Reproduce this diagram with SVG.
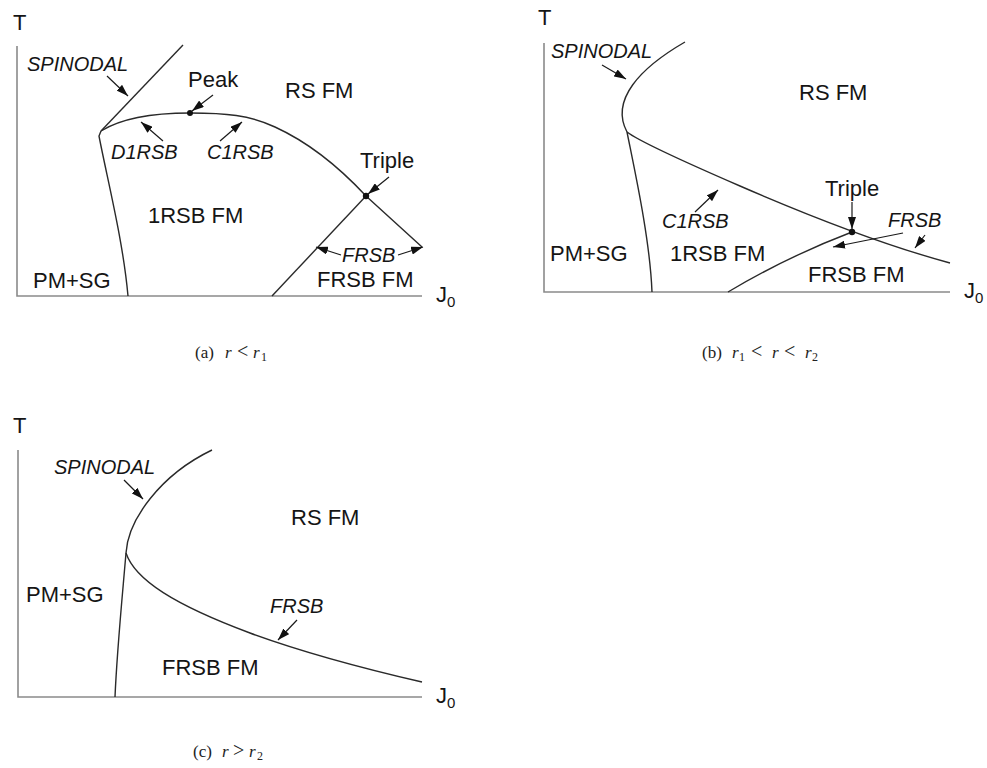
<svg xmlns="http://www.w3.org/2000/svg" width="987" height="768" viewBox="0 0 987 768">
<style>
.bg{fill:#ffffff}
.axis{fill:none;stroke:#8a8a8a;stroke-width:1.6}
.curve{fill:none;stroke:#2a2a2a;stroke-width:1.4}
.arr{fill:none;stroke:#1a1a1a;stroke-width:1.2;marker-end:url(#ah)}
.lbl{font-family:"Liberation Sans",Arial,Helvetica,sans-serif;font-size:22px;fill:#151515}
.it{font-family:"Liberation Sans",Arial,Helvetica,sans-serif;font-size:20px;font-style:italic;fill:#151515}
.ax{font-family:"Liberation Sans",Arial,Helvetica,sans-serif;font-size:22px;fill:#151515}
.sub{font-size:15px}
.cap{font-family:"Liberation Serif","Times New Roman",serif;font-size:17px;fill:#222}
.ci{font-style:italic}
.cs{font-size:12px}
.op{font-size:20px}
.dot{fill:#111}
</style>
<defs>
<marker id="ah" markerUnits="userSpaceOnUse" markerWidth="13" markerHeight="8" refX="12" refY="4" orient="auto">
<path d="M0,0 L12,4 L0,8 Z" fill="#111"/>
</marker>
</defs>
<rect class="bg" x="0" y="0" width="987" height="768"/>

<g id="panel-a">
<path class="axis" d="M17,46 L17,296 L422,296"/>
<text class="ax" x="13" y="30">T</text>
<text class="ax" x="436" y="302">J<tspan class="sub" dy="5">0</tspan></text>
<path class="curve" d="M183,45 L101,131"/>
<path class="curve" d="M101,131 C125,116 160,113 190,113 C225,113 250,115 275,127 C310,143 340,168 366,196 L422,247"/>
<path class="curve" d="M101,131 L99,136 C107,178 123,240 128,296"/>
<path class="curve" d="M272,296 L366,196"/>
<circle class="dot" cx="190" cy="113" r="3"/>
<circle class="dot" cx="366" cy="196" r="3.2"/>
<text class="it" x="27" y="71">SPINODAL</text>
<text class="lbl" x="188" y="87">Peak</text>
<text class="lbl" x="285" y="98">RS FM</text>
<text class="it" x="111" y="159">D1RSB</text>
<text class="it" x="207" y="159">C1RSB</text>
<text class="lbl" x="360" y="168">Triple</text>
<text class="lbl" x="148" y="223">1RSB FM</text>
<text class="it" x="342" y="262">FRSB</text>
<text class="lbl" x="33" y="288">PM+SG</text>
<text class="lbl" x="317" y="287">FRSB FM</text>
<text class="cap" x="195" y="358">(a)<tspan class="ci" x="225">r</tspan><tspan class="op" x="237">&lt;</tspan><tspan class="ci" x="253">r</tspan><tspan class="cs" x="261" dy="3">1</tspan></text>
</g>

<g id="panel-b">
<path class="axis" d="M544,43 L544,292 L950,292"/>
<text class="ax" x="538" y="25">T</text>
<text class="ax" x="964" y="298">J<tspan class="sub" dy="5">0</tspan></text>
<path class="curve" d="M685,42 C640,68 610,100 627,132"/>
<path class="curve" d="M627,132 C640,142 680,160 740,186 C800,212 880,244 950,263"/>
<path class="curve" d="M627,132 C635,172 650,240 652,292"/>
<path class="curve" d="M728,292 C770,267 810,248 852,232"/>
<circle class="dot" cx="852" cy="232" r="3.2"/>
<text class="it" x="551" y="58">SPINODAL</text>
<text class="lbl" x="799" y="100">RS FM</text>
<text class="lbl" x="825" y="196">Triple</text>
<text class="it" x="662" y="228">C1RSB</text>
<text class="it" x="888" y="227">FRSB</text>
<text class="lbl" x="550" y="261">PM+SG</text>
<text class="lbl" x="670" y="261">1RSB FM</text>
<text class="lbl" x="808" y="282">FRSB FM</text>
<text class="cap" x="702" y="358">(b)<tspan class="ci" x="732">r</tspan><tspan class="cs" x="739" dy="3">1</tspan><tspan class="op" x="751" dy="-3">&lt;</tspan><tspan class="ci" x="772">r</tspan><tspan class="op" x="784">&lt;</tspan><tspan class="ci" x="805">r</tspan><tspan class="cs" x="812" dy="3">2</tspan></text>
</g>

<g id="panel-c">
<path class="axis" d="M18,450 L18,697 L422,697"/>
<text class="ax" x="13" y="433">T</text>
<text class="ax" x="436" y="703">J<tspan class="sub" dy="5">0</tspan></text>
<path class="curve" d="M212,450 C160,475 128,520 126,553"/>
<path class="curve" d="M126,553 C135,580 175,605 250,633 C310,655 370,670 422,682"/>
<path class="curve" d="M126,553 C122,600 117,650 115,697"/>
<text class="it" x="54" y="474">SPINODAL</text>
<text class="lbl" x="291" y="525">RS FM</text>
<text class="lbl" x="26" y="602">PM+SG</text>
<text class="it" x="270" y="613">FRSB</text>
<text class="lbl" x="162" y="675">FRSB FM</text>
<text class="cap" x="193" y="757">(c)<tspan class="ci" x="222">r</tspan><tspan class="op" x="233">&gt;</tspan><tspan class="ci" x="249">r</tspan><tspan class="cs" x="257" dy="3">2</tspan></text>
</g>

<g id="connectors">
<path class="arr" d="M107,76 L128,96"/>
<path class="arr" d="M213,95 L192,111"/>
<path class="arr" d="M163,141 L141,122"/>
<path class="arr" d="M220,141 L242,122"/>
<path class="arr" d="M389,177 L368,194"/>
<path class="arr" d="M341,255 L316,247"/>
<path class="arr" d="M398,255 L423,247"/>
<path class="arr" d="M602,65 L626,79"/>
<path class="arr" d="M695,212 L718,190"/>
<path class="arr" d="M852,202 L852,229"/>
<path class="arr" d="M903,233 L833,247"/>
<path class="arr" d="M925,235 L915,248"/>
<path class="arr" d="M124,480 L143,499"/>
<path class="arr" d="M297,620 L278,640"/>
</g>
</svg>
